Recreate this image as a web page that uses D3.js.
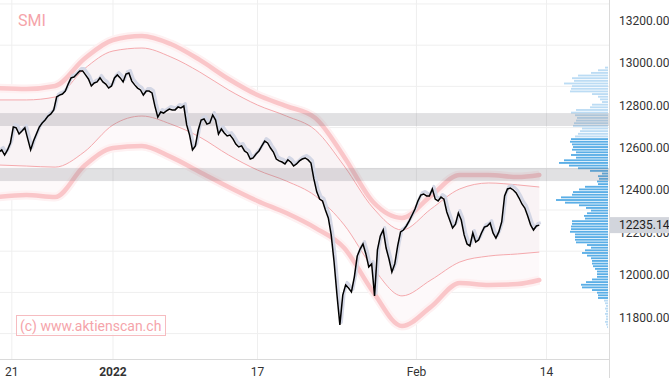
<!DOCTYPE html>
<html>
<head>
<meta charset="utf-8">
<style>
  body { margin: 0; background: #fff; }
  svg { display: block; font-family: Roboto, "Open Sans", sans-serif; }
</style>
</head>
<body>
<script src="https://d3js.org/d3.v7.min.js"></script>
<script>
// trading days shown (last one has no data yet, only the axis label)
const tradingDays = [
  "2021-12-20", "2021-12-21", "2021-12-22", "2021-12-23", "2021-12-27", "2021-12-28", "2021-12-29", "2021-12-30",
  "2022-01-03", "2022-01-04", "2022-01-05", "2022-01-06", "2022-01-07",
  "2022-01-10", "2022-01-11", "2022-01-12", "2022-01-13", "2022-01-14",
  "2022-01-17", "2022-01-18", "2022-01-19", "2022-01-20", "2022-01-21",
  "2022-01-24", "2022-01-25", "2022-01-26", "2022-01-27", "2022-01-28",
  "2022-01-31", "2022-02-01", "2022-02-02", "2022-02-03", "2022-02-04",
  "2022-02-07", "2022-02-08", "2022-02-09", "2022-02-10", "2022-02-11",
  "2022-02-14"
];
const barsPerDay = 5;

// SMI intraday prices, 5 per trading day
const prices = [
  12580, 12590, 12566, 12590, 12623, 12698, 12694, 12665, 12679, 12694,
  12642, 12590, 12632, 12665, 12698, 12717, 12731, 12750, 12760, 12779,
  12840, 12849, 12854, 12868, 12901, 12930, 12934, 12948, 12963, 12963,
  12944, 12925, 12892, 12906, 12911, 12930, 12911, 12901, 12882, 12892,
  12930, 12944, 12930, 12911, 12948, 12953, 12915, 12897, 12882, 12873,
  12849, 12868, 12868, 12859, 12797, 12745, 12769, 12764, 12774, 12783,
  12779, 12779, 12793, 12788, 12797, 12708, 12660, 12590, 12609, 12684,
  12731, 12736, 12712, 12717, 12755, 12731, 12665, 12689, 12670, 12656,
  12660, 12642, 12618, 12604, 12609, 12585, 12576, 12547, 12552, 12571,
  12585, 12609, 12632, 12623, 12599, 12580, 12547, 12538, 12533, 12524,
  12543, 12533, 12514, 12524, 12538, 12547, 12552, 12543, 12528, 12453,
  12392, 12358, 12349, 12307, 12269, 12189, 12061, 11905, 11764, 11905,
  11953, 11938, 11920, 11990, 12089, 12122, 12146, 12099, 12038, 12052,
  11901, 12118, 12184, 12212, 12127, 12075, 12014, 12052, 12137, 12203,
  12212, 12231, 12255, 12283, 12311, 12349, 12377, 12382, 12373, 12373,
  12406, 12358, 12349, 12368, 12358, 12297, 12259, 12222, 12240, 12292,
  12259, 12189, 12146, 12137, 12198, 12155, 12165, 12198, 12226, 12231,
  12245, 12198, 12174, 12203, 12250, 12373, 12406, 12410, 12401, 12387,
  12363, 12335, 12316, 12278, 12236, 12212, 12231, 12235.14
];

// envelope bands, sampled every 2 trading days
const bandDays   = [0, 2, 4, 6, 8, 10, 12, 14, 16, 18, 20, 22, 24, 26, 28, 30, 32, 34, 36, 37.5];
const outerUpper = [12882, 12878, 12892, 13019, 13109, 13128, 13090, 13015, 12925, 12849, 12797, 12741, 12557, 12344, 12269, 12373, 12472, 12472, 12462, 12472];
const innerUpper = [12826, 12826, 12840, 12972, 13057, 13071, 13029, 12958, 12873, 12802, 12750, 12684, 12514, 12316, 12212, 12311, 12406, 12434, 12425, 12415];
const innerLower = [12519, 12514, 12509, 12580, 12708, 12750, 12712, 12651, 12566, 12495, 12443, 12373, 12236, 12033, 11901, 11976, 12061, 12089, 12099, 12108];
const outerLower = [12368, 12377, 12368, 12514, 12599, 12609, 12557, 12486, 12415, 12349, 12292, 12222, 12127, 11920, 11759, 11849, 11962, 11953, 11957, 11976];

// volume profile, bins of 12.5 points from the top
const profileTop = 12983;
const profileStep = 12.5;
const profileVolume = [
  3, 10, 17, 30, 36, 34, 44, 36, 37, 38,
  16, 10, 8, 6, 16, 18, 32, 37, 33, 31,
  32, 34, 35, 26, 28, 30, 33, 37, 38, 36,
  35, 36, 32, 37, 32, 44, 49, 39, 30, 18,
  6, 10, 9, 11, 10, 23, 29, 35, 36, 47,
  52, 43, 29, 22, 17, 21, 24, 23, 36, 36,
  37, 37, 38, 33, 33, 33, 32, 21, 17, 23,
  26, 21, 17, 16, 16, 15, 13, 11, 11, 11,
  16, 22, 27, 26, 16, 11, 10, 10, 4, 3,
  2, 3, 2, 3, 2, 2, 3, 2, 1
];
const valueArea = [11883, 12646];

// support / resistance zones
const zones = [[12703, 12764], [12443, 12505]];

const yTicks = [11800, 12000, 12200, 12400, 12600, 12800, 13000, 13200];
const xTicks = [
  { date: "2021-12-21", label: "21" },
  { date: "2022-01-03", label: "2022", bold: true },
  { date: "2022-01-17", label: "17" },
  { date: "2022-02-01", label: "Feb" },
  { date: "2022-02-14", label: "14" }
];
const lastPrice = 12235.14;

const W = 669, H = 378;
const plotW = 609, plotH = 359;

const svg = d3.select("body").append("svg")
  .attr("width", W).attr("height", H);

const x = d3.scaleLinear().domain([0, tradingDays.length - 1]).range([-2.6, 546.5]);
const y = d3.scaleLinear().domain([11800, 13200]).range([317.3, 20.7]);

svg.append("defs").append("clipPath").attr("id", "plot")
  .append("rect").attr("width", plotW).attr("height", plotH);

const g = svg.append("g").attr("clip-path", "url(#plot)");

// grid
const gridLevels = d3.range(0, 9).map(i => 11723 + i * 194.5);
g.selectAll(".hgrid").data(gridLevels).enter().append("line")
  .attr("x1", 0).attr("x2", plotW)
  .attr("y1", d => y(d)).attr("y2", d => y(d))
  .attr("stroke", "#efefef");
g.selectAll(".vgrid").data(xTicks).enter().append("line")
  .attr("y1", 0).attr("y2", plotH)
  .attr("x1", d => x(tradingDays.indexOf(d.date))).attr("x2", d => x(tradingDays.indexOf(d.date)))
  .attr("stroke", "#efefef");

// bands
const bandArea = (hi, lo) => d3.area()
  .x((d, i) => x(bandDays[i]))
  .y0((d, i) => y(lo[i]))
  .y1((d, i) => y(hi[i]))
  .curve(d3.curveMonotoneX);
const bandLine = arr => d3.line()
  .x((d, i) => x(bandDays[i]))
  .y(d => y(d))
  .curve(d3.curveMonotoneX)(arr);

g.append("path").attr("d", bandArea(outerUpper, outerLower)(bandDays)).attr("fill", "#fdf9fa");
g.append("path").attr("d", bandArea(innerUpper, innerLower)(bandDays)).attr("fill", "#f9f3f5");

[outerUpper, outerLower].forEach(arr => {
  g.append("path").attr("d", bandLine(arr)).attr("fill", "none")
    .attr("stroke", "#fef1f2").attr("stroke-width", 9);
  g.append("path").attr("d", bandLine(arr)).attr("fill", "none")
    .attr("stroke", "#fac6c9").attr("stroke-width", 4.5).attr("stroke-linecap", "round");
});
[innerUpper, innerLower].forEach(arr => {
  g.append("path").attr("d", bandLine(arr)).attr("fill", "none")
    .attr("stroke", "#f5a9ad").attr("stroke-width", 1);
});

// volume profile
const vx = d3.scaleLinear().domain([0, d3.max(profileVolume)]).range([0, 52]);
g.selectAll(".vp").data(profileVolume).enter().append("rect")
  .attr("x", d => plotW - 1 - vx(d))
  .attr("width", d => vx(d))
  .attr("y", (d, i) => y(profileTop - profileStep * i))
  .attr("height", y(profileTop - profileStep) - y(profileTop) - 0.8)
  .attr("fill", (d, i) => {
    const top = profileTop - profileStep * i, bottom = top - profileStep;
    return (top <= valueArea[1] + 1 && bottom >= valueArea[0] - 1) ? "#5aaee6" : "#bcdcf4";
  });

// zones
g.selectAll(".zone").data(zones).enter().append("rect")
  .attr("x", 0).attr("width", plotW)
  .attr("y", d => y(d[1])).attr("height", d => y(d[0]) - y(d[1]))
  .attr("fill", "rgba(120,120,128,0.22)");

// price
const priceLine = d3.line()
  .x((d, i) => x((i + 0.5) / barsPerDay))
  .y(d => y(d));
g.append("path").attr("d", priceLine(prices)).attr("fill", "none")
  .attr("transform", "translate(1.5,-2.5)")
  .attr("stroke", "#d4d7e5").attr("stroke-width", 3).attr("stroke-linejoin", "round");
g.append("path").attr("d", priceLine(prices)).attr("fill", "none")
  .attr("stroke", "#000").attr("stroke-width", 1.5);

// axes lines
svg.append("line").attr("x1", plotW + 0.5).attr("x2", plotW + 0.5).attr("y1", 0).attr("y2", H)
  .attr("stroke", "#dadada");
svg.append("line").attr("x1", 0).attr("x2", plotW).attr("y1", plotH + 0.5).attr("y2", plotH + 0.5)
  .attr("stroke", "#dadada");

// y tick labels
svg.selectAll(".ylab").data(yTicks).enter().append("text")
  .attr("x", 619).attr("y", d => y(d)).attr("dy", "0.35em")
  .attr("font-size", 12).attr("fill", "#333")
  .text(d => d3.format(".2f")(d));

// last price label (covers the 12200.00 tick, as in the original)
svg.append("rect").attr("x", plotW + 1).attr("width", W - plotW - 1)
  .attr("y", y(lastPrice) - 8).attr("height", 16).attr("fill", "#d2d5dc");
svg.append("text").attr("x", 619).attr("y", y(lastPrice)).attr("dy", "0.35em")
  .attr("font-size", 12).attr("fill", "#222").text(d3.format(".2f")(lastPrice));

// x tick labels
svg.selectAll(".xlab").data(xTicks).enter().append("text")
  .attr("x", d => x(tradingDays.indexOf(d.date))).attr("y", 372).attr("dy", "0.35em")
  .attr("text-anchor", "middle").attr("font-size", 12)
  .attr("font-weight", d => d.bold ? "bold" : "normal")
  .attr("fill", "#333").text(d => d.label);

// title and watermark
svg.append("text").attr("x", 18).attr("y", 26).attr("font-size", 16)
  .attr("fill", "#f5a4aa").text("SMI");
svg.append("rect").attr("x", 16.5).attr("y", 315.5).attr("width", 149).attr("height", 20)
  .attr("fill", "rgba(255,255,255,0.6)").attr("stroke", "#f6bcc0");
svg.append("text").attr("x", 20).attr("y", 331).attr("font-size", 14)
  .attr("fill", "#f5a4aa").text("(c) www.aktienscan.ch");
</script>
</body>
</html>
